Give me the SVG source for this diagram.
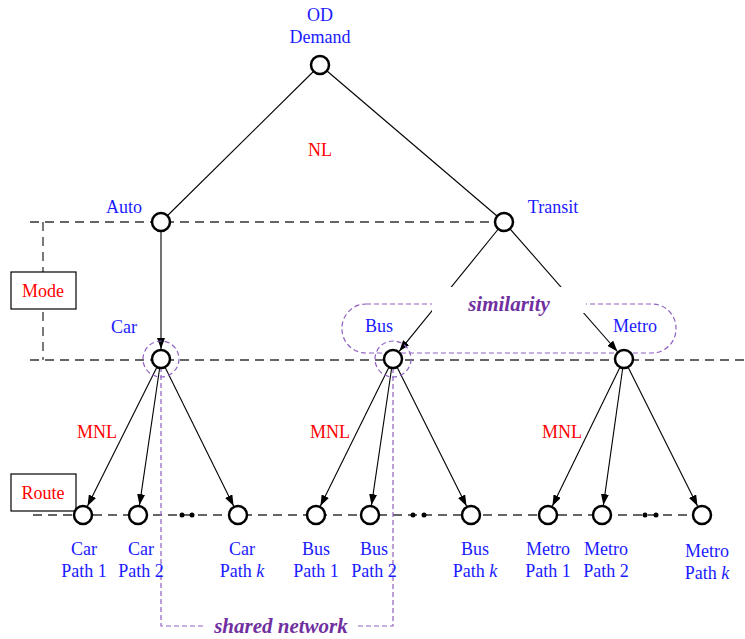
<svg xmlns="http://www.w3.org/2000/svg" width="745" height="639" viewBox="0 0 745 639">
  <style>
    .lbl { font-family: "Liberation Serif", "Times New Roman", serif; font-size: 18px; fill: #1a1aff; text-anchor: middle; }
    .red { font-family: "Liberation Serif", "Times New Roman", serif; font-size: 18px; fill: #ff0000; text-anchor: middle; }
    .purple { font-family: "Liberation Serif", "Times New Roman", serif; font-size: 21px; font-weight: bold; font-style: italic; fill: #7030a0; text-anchor: middle; }
    .node { fill: #ffffff; stroke: #000000; stroke-width: 2.5; }
    .edge { fill: none; stroke: #000000; stroke-width: 1.1; }
    .arrow { fill: none; stroke: #000000; stroke-width: 1.1; marker-end: url(#head); }
    .level { fill: none; stroke: #333333; stroke-width: 1.3; stroke-dasharray: 9 6; }
    .group { fill: none; stroke: #9060c0; stroke-width: 1.2; stroke-dasharray: 5 3; }
    .box { fill: #ffffff; stroke: #000000; stroke-width: 1.2; }
  </style>
  <defs>
    <marker id="head" markerUnits="userSpaceOnUse" markerWidth="11" markerHeight="8" refX="11" refY="4" orient="auto">
      <path d="M0,0 L11,4 L0,8 z" fill="#000000"/>
    </marker>
  </defs>

  <!-- level guides -->
  <g id="levels">
    <line class="level" x1="30" y1="222" x2="496" y2="222"/>
    <line class="level" x1="30" y1="360" x2="745" y2="360" stroke="#555555" stroke-width="1.5"/>
    <line class="level" x1="43" y1="222" x2="43" y2="360"/>
    <line class="level" x1="33" y1="515" x2="702" y2="515"/>
  </g>

  <!-- connectors -->
  <g id="connectors">
    <line class="edge" x1="320" y1="65" x2="161" y2="222"/>
    <line class="edge" x1="320" y1="65" x2="504" y2="222"/>
    <line class="arrow" x1="161" y1="222" x2="161" y2="349" stroke="#777777" stroke-width="1.8"/>
    <line class="arrow" x1="504" y1="222" x2="399.3" y2="351.2"/>
    <line class="arrow" x1="504" y1="222" x2="617.4" y2="351.5"/>
    <line class="arrow" x1="161" y1="359" x2="87.5" y2="506.1"/>
    <line class="arrow" x1="161" y1="359" x2="139.5" y2="505.1"/>
    <line class="arrow" x1="161" y1="359" x2="233.6" y2="506.0"/>
    <line class="arrow" x1="393" y1="359" x2="320.4" y2="506.0"/>
    <line class="arrow" x1="393" y1="359" x2="371.5" y2="505.1"/>
    <line class="arrow" x1="393" y1="359" x2="466.5" y2="506.1"/>
    <line class="arrow" x1="624" y1="359" x2="552.4" y2="506.0"/>
    <line class="arrow" x1="624" y1="359" x2="603.4" y2="505.1"/>
    <line class="arrow" x1="624" y1="359" x2="697.5" y2="506.1"/>
  </g>

  <!-- similarity grouping of bus and metro -->
  <g id="similarity">
    <rect class="group" x="342" y="304" width="334" height="49" rx="24" ry="24"/>
    <rect x="432" y="287" width="154" height="26" fill="#ffffff"/>
    <text class="purple" x="509" y="311" font-size="20">similarity</text>
  </g>

  <!-- shared network between car and bus -->
  <g id="shared-network">
    <circle class="group" cx="161" cy="359" r="18"/>
    <circle class="group" cx="393" cy="359" r="18"/>
    <path class="group" d="M161,359 V626 H393 V359"/>
    <rect x="205" y="614" width="152" height="25" fill="#ffffff"/>
    <text class="purple" x="281" y="633">shared network</text>
  </g>

  <!-- level boxes -->
  <g id="mode-box">
    <rect class="box" x="11" y="272" width="65" height="37"/>
    <text class="red" x="43" y="297">Mode</text>
  </g>
  <g id="route-box">
    <rect class="box" x="11" y="474" width="65" height="37"/>
    <text class="red" x="43" y="499">Route</text>
  </g>

  <text class="red" x="320" y="156">NL</text>
  <text class="red" x="97" y="438">MNL</text>
  <text class="red" x="330" y="438">MNL</text>
  <text class="red" x="562" y="438">MNL</text>

  <!-- nodes -->
  <g id="od">
    <circle class="node" cx="320" cy="65" r="9"/>
    <text class="lbl" x="320" y="21">OD</text>
    <text class="lbl" x="320" y="43">Demand</text>
  </g>
  <g id="auto">
    <circle class="node" cx="161" cy="222" r="9"/>
    <text class="lbl" x="124" y="213">Auto</text>
  </g>
  <g id="transit">
    <circle class="node" cx="504" cy="222" r="9"/>
    <text class="lbl" x="553" y="213">Transit</text>
  </g>
  <g id="car">
    <circle class="node" cx="161" cy="359" r="9"/>
    <text class="lbl" x="124" y="333">Car</text>
  </g>
  <g id="bus">
    <circle class="node" cx="393" cy="359" r="9"/>
    <text class="lbl" x="379" y="332">Bus</text>
  </g>
  <g id="metro">
    <circle class="node" cx="624" cy="359" r="9"/>
    <text class="lbl" x="635" y="332">Metro</text>
  </g>

  <g id="car-path-1">
    <circle class="node" cx="83" cy="515" r="9"/>
    <text class="lbl" x="84" y="555">Car</text>
    <text class="lbl" x="84" y="577">Path 1</text>
  </g>
  <g id="car-path-2">
    <circle class="node" cx="138" cy="515" r="9"/>
    <text class="lbl" x="141" y="555">Car</text>
    <text class="lbl" x="141" y="577">Path 2</text>
  </g>
  <g id="car-more">
    <circle cx="182" cy="515" r="2.5" fill="#000"/>
    <circle cx="192" cy="515" r="2.5" fill="#000"/>
  </g>
  <g id="car-path-k">
    <circle class="node" cx="238" cy="515" r="9"/>
    <text class="lbl" x="242" y="555">Car</text>
    <text class="lbl" x="242" y="577">Path <tspan font-style="italic">k</tspan></text>
  </g>
  <g id="bus-path-1">
    <circle class="node" cx="316" cy="515" r="9"/>
    <text class="lbl" x="316" y="555">Bus</text>
    <text class="lbl" x="316" y="577">Path 1</text>
  </g>
  <g id="bus-path-2">
    <circle class="node" cx="370" cy="515" r="9"/>
    <text class="lbl" x="374" y="555">Bus</text>
    <text class="lbl" x="374" y="577">Path 2</text>
  </g>
  <g id="bus-more">
    <circle cx="413" cy="515" r="2.5" fill="#000"/>
    <circle cx="424" cy="515" r="2.5" fill="#000"/>
  </g>
  <g id="bus-path-k">
    <circle class="node" cx="471" cy="515" r="9"/>
    <text class="lbl" x="475" y="555">Bus</text>
    <text class="lbl" x="475" y="577">Path <tspan font-style="italic">k</tspan></text>
  </g>
  <g id="metro-path-1">
    <circle class="node" cx="548" cy="515" r="9"/>
    <text class="lbl" x="548" y="555">Metro</text>
    <text class="lbl" x="548" y="577">Path 1</text>
  </g>
  <g id="metro-path-2">
    <circle class="node" cx="602" cy="515" r="9"/>
    <text class="lbl" x="606" y="555">Metro</text>
    <text class="lbl" x="606" y="577">Path 2</text>
  </g>
  <g id="metro-more">
    <circle cx="645" cy="515" r="2.5" fill="#000"/>
    <circle cx="656" cy="515" r="2.5" fill="#000"/>
  </g>
  <g id="metro-path-k">
    <circle class="node" cx="702" cy="515" r="9"/>
    <text class="lbl" x="707" y="557">Metro</text>
    <text class="lbl" x="707" y="579">Path <tspan font-style="italic">k</tspan></text>
  </g>
</svg>
